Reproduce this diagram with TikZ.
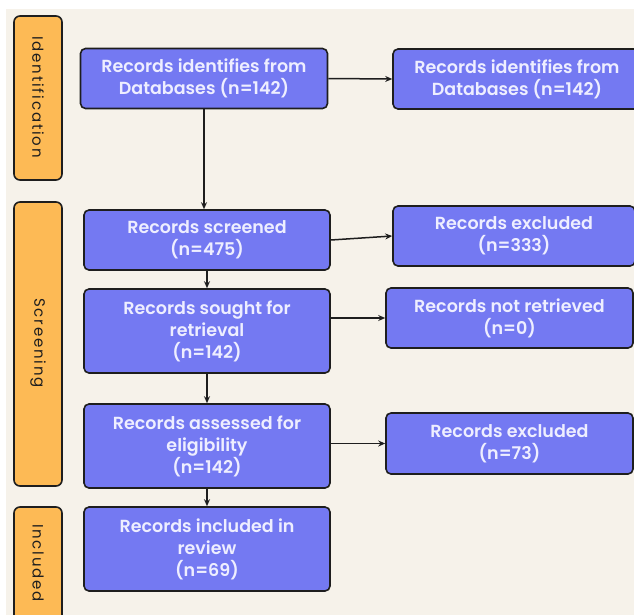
\documentclass[tikz,border=0pt]{standalone}
\usepackage{fontspec}
\setmainfont{Poppins}[BoldFont={Poppins SemiBold}]
\usetikzlibrary{arrows.meta,calc}
\definecolor{bg}{HTML}{F6F2EA}
\definecolor{boxblue}{HTML}{7479F2}
\definecolor{boxorange}{HTML}{FDBA55}
\definecolor{txtlight}{HTML}{EEEEFF}
\definecolor{edge}{HTML}{1E1E1E}
\tikzset{
  bluebox/.style={draw=edge, line width=1.6pt, fill=boxblue, rounded corners=5pt,
    inner sep=0pt, align=center, text=txtlight, minimum width=246pt,
    font=\fontsize{17.5}{22}\selectfont\bfseries},
  phase/.style={draw=edge, line width=1.6pt, fill=boxorange, rounded corners=6pt,
    inner sep=0pt, minimum width=48pt},
  phasetext/.style={rotate=-90, text=edge, font=\fontsize{15}{17}\selectfont\addfontfeatures{LetterSpace=12}},
  arr/.style={-{Stealth[length=7pt,width=6pt]}, line width=1.5pt, draw=edge}
}
\begin{document}
\begin{tikzpicture}[x=1pt,y=-1pt]
\useasboundingbox (0,0) rectangle (634,614);
\clip (0,0) rectangle (634,614);
\fill[white] (0,0) rectangle (634,614);
\fill[bg] (6,9) rectangle (640,620);

% phase boxes
\node[phase, minimum height=164pt] (p1) at (38,98) {};
\node[phasetext] (p1t) at (38,97) {Identification};
\node[phase, minimum height=284pt] (p2) at (38,344) {};
\node[phasetext] (p2t) at (38,343) {Screening};
\node[phase, minimum height=133pt] (p3) at (38,573.5) {};
\node[phasetext] (p3t) at (38,563) {Included};

% blue boxes
\node[bluebox, minimum width=247pt, minimum height=60pt] (A) at (204,78.5) {Records identifies from\\Databases (n=142)};
\node[bluebox, minimum width=248pt, minimum height=60pt] (B) at (517,79) {Records identifies from\\Databases (n=142)};
\node[bluebox, minimum height=60pt] (C) at (207,240) {Records screened\\(n=475)};
\node[bluebox, minimum height=84pt] (D) at (207,331) {Records sought for\\retrieval\\(n=142)};
\node[bluebox, minimum width=242pt, minimum height=60pt] (E) at (514,236) {Records excluded\\(n=333)};
\node[bluebox, minimum width=247pt, minimum height=60pt] (F) at (509.5,318) {Records not retrieved\\(n=0)};
\node[bluebox, minimum height=84pt] (G) at (207,446) {Records assessed for\\eligibility\\(n=142)};
\node[bluebox, minimum width=247pt, minimum height=61pt] (H) at (509.5,443.5) {Records excluded\\(n=73)};
\node[bluebox, minimum height=84pt] (I) at (207,549) {Records included in\\review\\(n=69)};

% connectors
\draw[arr] (A.south) -- (A.south |- C.north);
\draw[arr] (A.east) -- (B.west);
\draw[arr] (C.east) -- (E.west);
\draw[arr] (C.south) -- (D.north);
\draw[arr] (D.east |- F.west) -- (F.west);
\draw[arr] (D.south) -- (G.north);
\draw[arr] (G.east |- H.west) -- (H.west);
\draw[arr] (G.south) -- (I.north);
\end{tikzpicture}
\end{document}
